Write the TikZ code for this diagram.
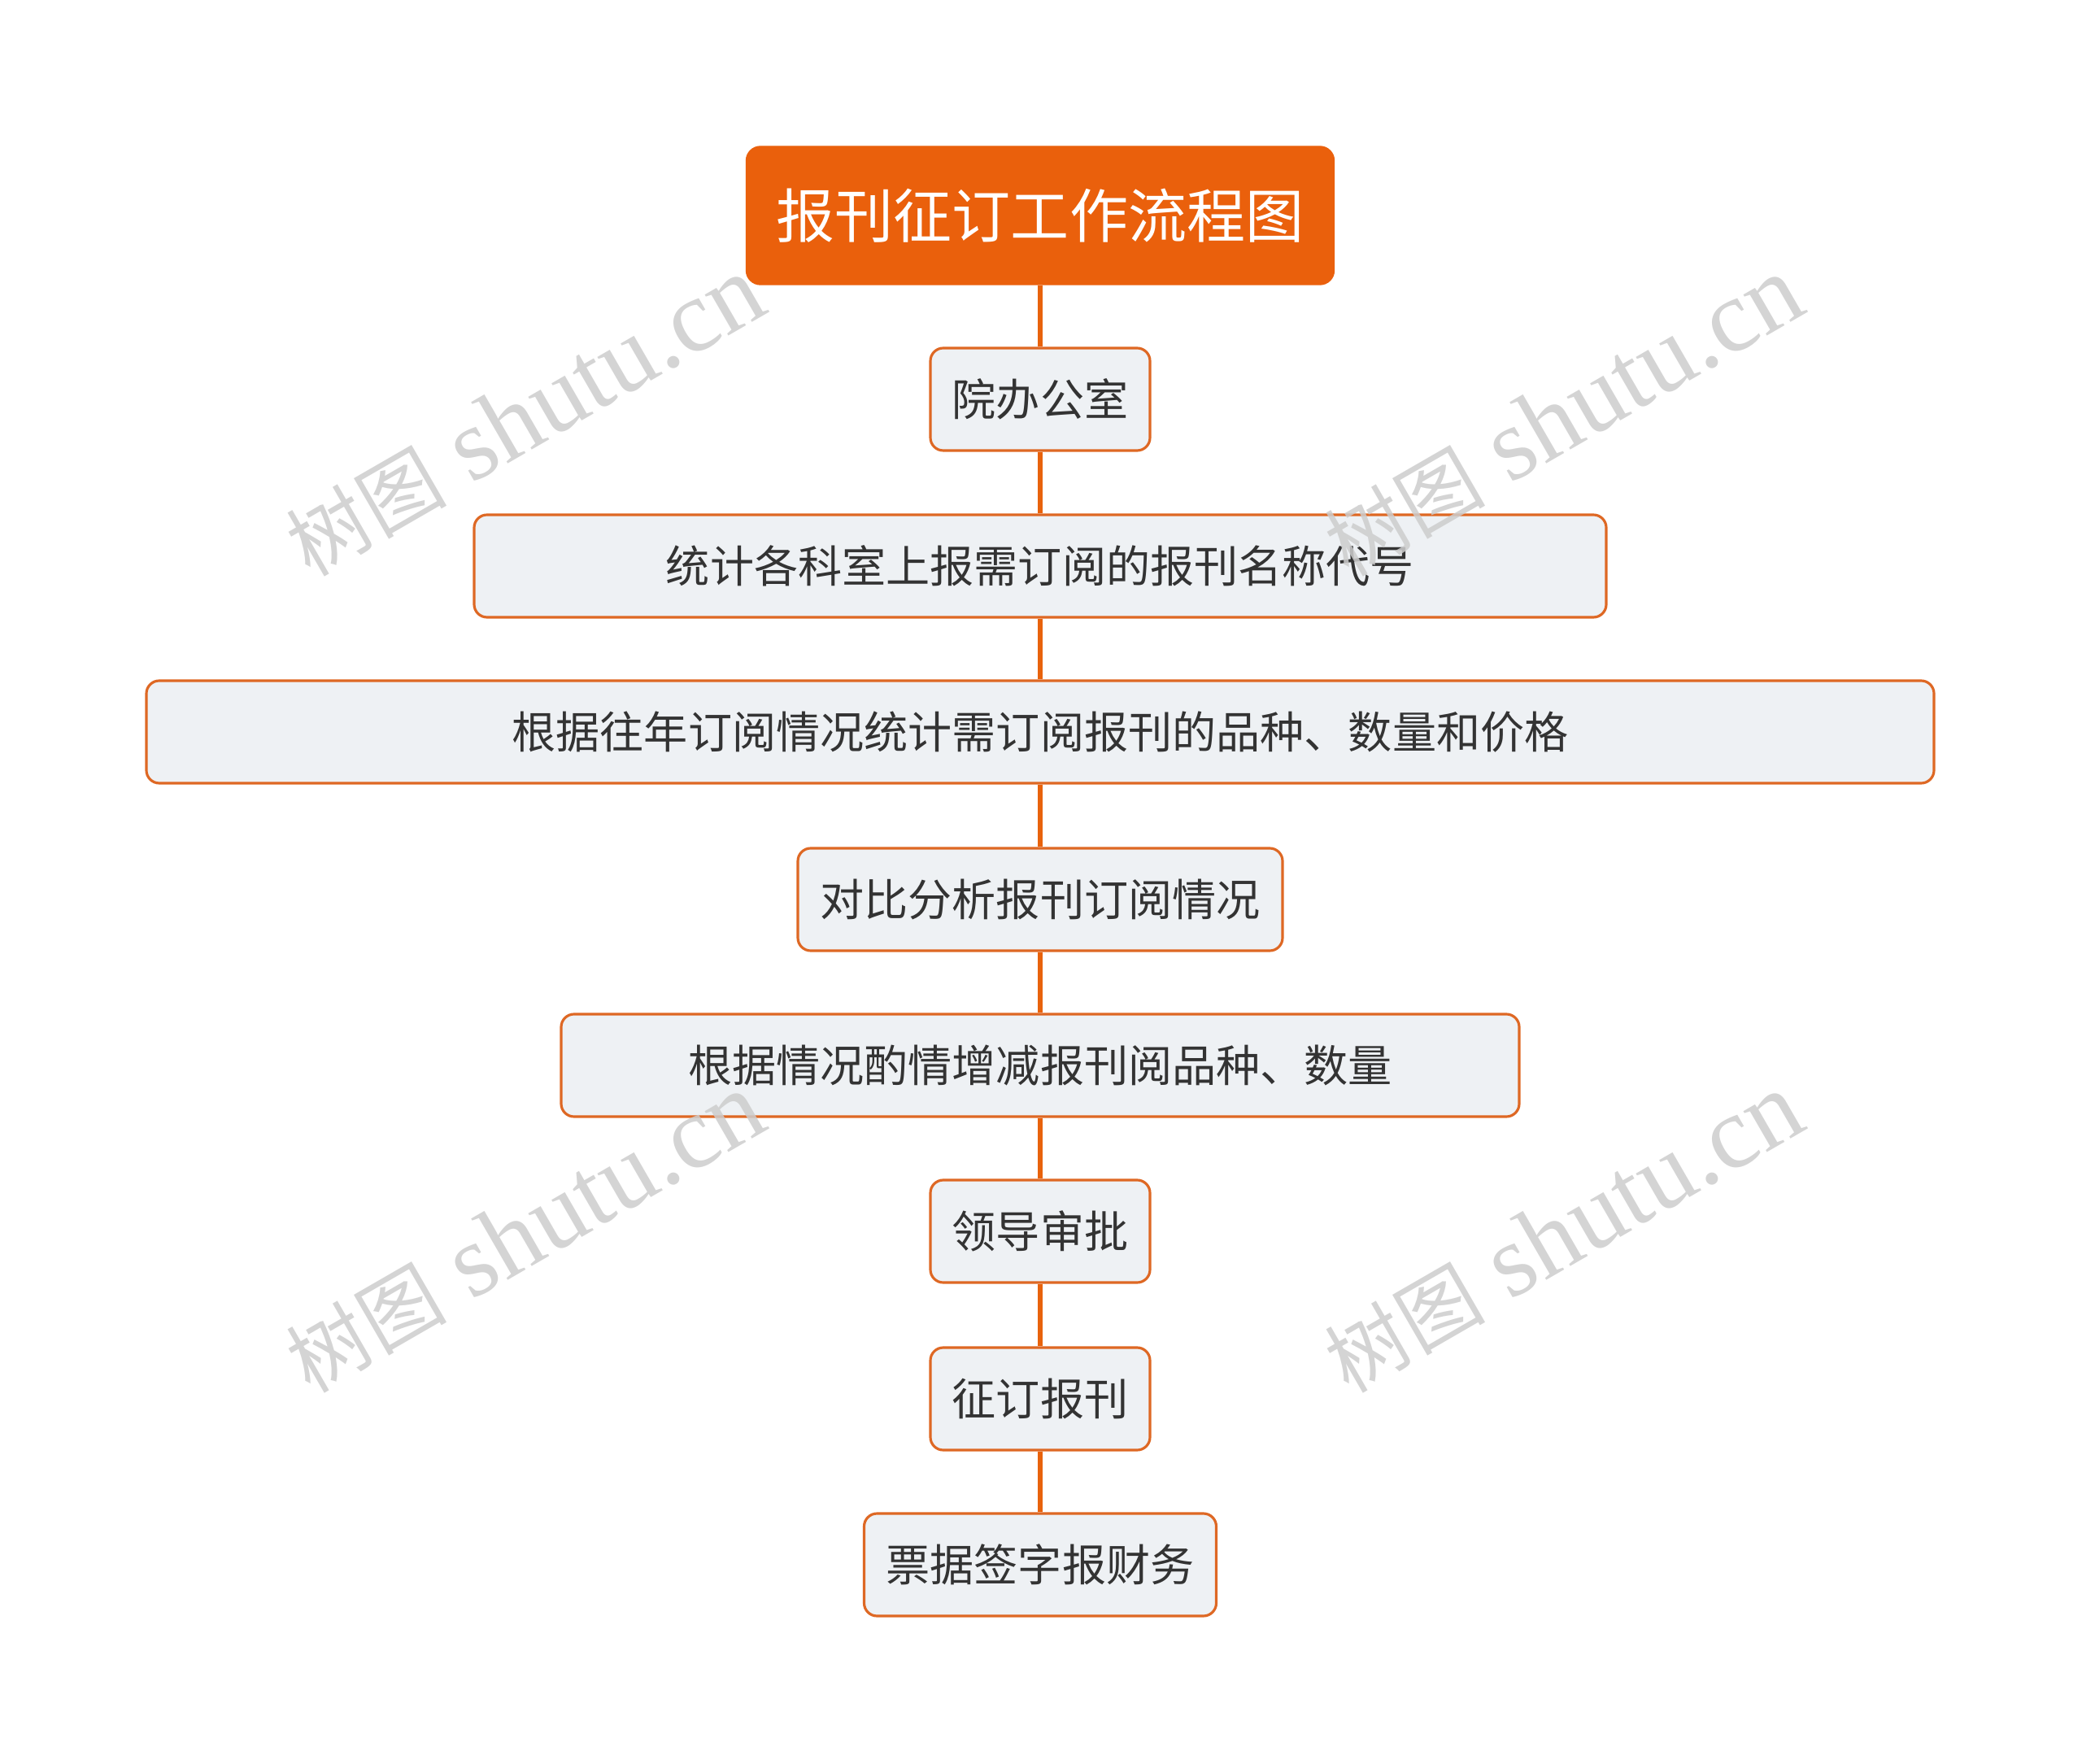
\documentclass[tikz,border=0pt]{standalone}
\usepackage{fontspec}
\setmainfont{Liberation Serif}
\newfontfamily\cjk{Noto Sans CJK SC}
\definecolor{flowline}{RGB}{232,98,12}
\definecolor{flowtitle}{RGB}{234,96,12}
\definecolor{flowfill}{RGB}{238,241,244}
\definecolor{flowedge}{RGB}{222,104,36}
\definecolor{flowtext}{RGB}{51,51,51}
\definecolor{wmgray}{RGB}{205,205,205}
\usetikzlibrary{positioning}

\begin{document}
\begin{tikzpicture}[every node/.style={font=\cjk},
    titlebox/.style={fill=flowtitle,draw=flowtitle,rounded corners=5pt,text=white,
      font=\cjk\fontsize{20.5pt}{24pt}\selectfont,minimum width=7.23cm,minimum height=1.70cm},
    stepbox/.style={fill=flowfill,draw=flowedge,line width=0.9pt,rounded corners=4.5pt,text=flowtext,
      font=\cjk\fontsize{15.4pt}{18pt}\selectfont,minimum height=1.26cm},
    link/.style={flowline,line width=1.8pt},
    watermark/.style={text=wmgray,opacity=0.85,rotate=30,font=\fontsize{36pt}{40pt}\selectfont}]

  \useasboundingbox (0,0) rectangle (25.6,-21.69);

  %% Title
  \node[titlebox] (title) at (12.79,-2.65) {报刊征订工作流程图};

  %% Steps
  \node[stepbox,minimum width=2.70cm]  (office)  at (12.79,-4.91)  {院办公室};
  \node[stepbox,minimum width=13.92cm] (collect) at (12.79,-6.96)  {统计各科室上报需订阅的报刊名称代号};
  \node[stepbox,minimum width=21.98cm] (count)   at (12.79,-9.00)  {根据往年订阅情况统计需订阅报刊的品种、数量和价格};
  \node[stepbox,minimum width=5.96cm]  (compare) at (12.79,-11.06) {对比分析报刊订阅情况};
  \node[stepbox,minimum width=11.78cm] (adjust)  at (12.79,-13.10) {根据情况酌情增减报刊阅品种、数量};
  \node[stepbox,minimum width=2.70cm]  (approve) at (12.79,-15.14) {领导审批};
  \node[stepbox,minimum width=2.70cm]  (order)   at (12.79,-17.20) {征订报刊};
  \node[stepbox,minimum width=4.33cm]  (finance) at (12.79,-19.24) {票据签字报财务};

  %% Links
  \draw[link] (title) -- (office);
  \draw[link] (office) -- (collect);
  \draw[link] (collect) -- (count);
  \draw[link] (count) -- (compare);
  \draw[link] (compare) -- (adjust);
  \draw[link] (adjust) -- (approve);
  \draw[link] (approve) -- (order);
  \draw[link] (order) -- (finance);

  %% Watermarks
  \node[watermark] (wm1) at (6.45,-5.12)  {{\cjk\fontsize{28pt}{32pt}\selectfont 树图} shutu.cn};
  \node[watermark] (wm2) at (19.22,-5.12) {{\cjk\fontsize{28pt}{32pt}\selectfont 树图} shutu.cn};
  \node[watermark] (wm3) at (6.45,-15.16) {{\cjk\fontsize{28pt}{32pt}\selectfont 树图} shutu.cn};
  \node[watermark] (wm4) at (19.22,-15.16) {{\cjk\fontsize{28pt}{32pt}\selectfont 树图} shutu.cn};
\end{tikzpicture}
\end{document}
